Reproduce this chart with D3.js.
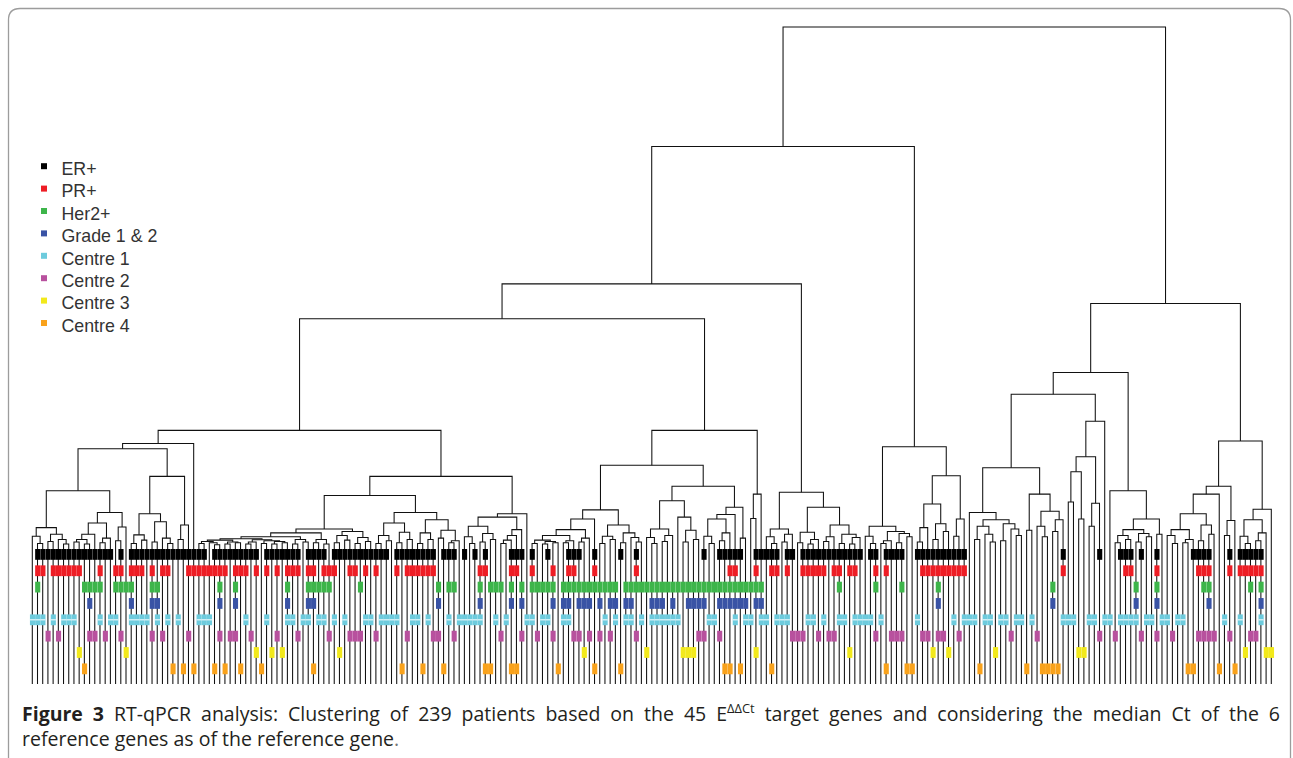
<!DOCTYPE html>
<html><head><meta charset="utf-8">
<script src="https://cdn.jsdelivr.net/npm/d3@7"></script>
<style>html,body{margin:0;padding:0;background:#fff;} svg{display:block;}</style>
</head><body>
<svg id="chart" width="1293" height="758"></svg>
<script>
// ---------------- legend / rows ----------------
const rowLabels = ["ER+","PR+","Her2+","Grade 1 & 2","Centre 1","Centre 2","Centre 3","Centre 4"];
const rowColors = ["#000000","#ee1d25","#3db54a","#3953a5","#6dcbdd","#b8519e","#f2e91b","#f9a21b"];

// positive leaves per attribute, as runs [first,last] of leaf index (0..238, left to right)
const erRuns = [[1,15],[17,17],[19,33],[35,43],[45,51],[53,56],[58,68],[70,77],[79,81],[83,83],[85,85],[87,87],[92,94],[96,96],[99,99],[103,105],[108,108],[113,113],[116,116],[129,129],[132,136],[139,143],[145,146],[148,159],[161,162],[164,167],[170,179],[198,198],[205,205],[209,211],[213,213],[216,216],[223,226],[230,230],[232,236]];
const prRuns = [[1,2],[4,9],[13,13],[16,17],[19,21],[23,23],[25,26],[30,37],[39,41],[43,43],[45,45],[47,47],[49,51],[53,54],[56,58],[61,62],[64,64],[66,66],[70,70],[72,77],[86,87],[92,93],[96,96],[100,100],[103,104],[108,108],[116,116],[134,135],[139,139],[142,143],[145,145],[148,152],[154,155],[157,158],[162,162],[164,164],[171,179],[198,198],[210,211],[216,216],[224,226],[230,230],[232,236]];
const her2Runs = [[1,1],[10,13],[16,19],[23,24],[36,36],[39,39],[49,49],[53,57],[63,63],[78,78],[80,81],[86,86],[88,90],[92,92],[94,94],[96,100],[102,112],[114,140],[155,155],[162,162],[167,167],[174,174],[196,196],[212,212],[216,216],[225,226],[234,234],[236,236]];
const gradeRuns = [[11,11],[19,19],[23,24],[36,36],[39,39],[49,49],[53,54],[78,78],[86,86],[92,92],[94,94],[100,100],[102,103],[105,107],[109,109],[111,112],[114,115],[119,121],[123,123],[126,129],[132,137],[139,140],[174,174],[196,196],[212,212],[216,216],[226,226],[236,236]];
const centre1Runs = [[0,2],[4,4],[6,8],[13,13],[15,16],[19,22],[24,24],[26,26],[28,28],[32,34],[41,41],[45,45],[49,50],[52,53],[55,56],[58,58],[60,60],[64,65],[67,70],[73,74],[76,76],[80,80],[82,86],[89,89],[91,91],[95,96],[98,99],[102,103],[110,110],[112,112],[114,115],[117,117],[119,124],[130,131],[135,135],[137,138],[140,141],[143,145],[149,150],[152,152],[155,156],[158,161],[163,163],[170,170],[177,177],[179,181],[183,184],[186,187],[189,190],[192,192],[198,200],[203,204],[206,207],[209,212],[214,215],[217,218],[220,221],[229,229],[232,232],[236,236]];
const centre2Runs = [[3,3],[5,5],[11,12],[14,14],[17,17],[23,23],[25,25],[30,30],[36,36],[38,39],[42,42],[47,47],[51,51],[57,57],[61,63],[66,66],[72,72],[77,78],[81,81],[90,90],[94,94],[97,97],[100,100],[104,105],[107,107],[109,109],[111,111],[116,116],[128,129],[132,132],[146,148],[151,151],[153,154],[162,162],[165,167],[171,172],[174,175],[178,178],[188,188],[193,193],[205,205],[208,208],[213,213],[216,216],[219,219],[224,227],[230,230],[234,235]];
const centre3Runs = [[9,9],[18,18],[43,43],[46,46],[48,48],[59,59],[106,106],[118,118],[125,127],[139,139],[157,157],[173,173],[176,176],[185,185],[201,202],[233,233],[237,238]];
const centre4Runs = [[10,10],[27,27],[29,29],[31,31],[35,35],[37,37],[40,40],[44,44],[54,54],[71,71],[75,75],[79,79],[87,88],[92,93],[101,101],[108,108],[113,113],[133,134],[136,136],[142,142],[164,164],[168,169],[182,182],[191,191],[194,197],[222,223],[228,228],[231,231]];
const rowRuns = [erRuns, prRuns, her2Runs, gradeRuns, centre1Runs, centre2Runs, centre3Runs, centre4Runs];

// ---------------- dendrogram (Newick: x = patient, ":h" = merge height, root = 100) ----------------
const N51  = "((x,(x,x):21.4):22.5,((x,x):21.7,(x,(x,x):21.3):22.0):22.8):23.8";
const N100 = "((((x,x):21.6,(x,x):21.3):22.0,x):22.8,((x,x):21.5,x):22.2):24.5";
const N126 = "((x,x):21.8,x):23.9";
const N140 = "((x,x):21.4,(x,x):21.9):22.7";
const N162 = "((x,x):21.6,(x,(x,x):21.4):22.2):24.7";
const N185 = "((x,x):22.0,x):24.2";
const L1 = `(((${N51},(${N100},${N126}):26.1):29.4,((${N140},${N162}):25.9,${N185}):31.6):35.8,x):36.6`;

const C1a  = "((((x,x):21.4,(x,(x,x):21.2):21.5):21.7,((x,x):21.3,(x,x):21.5):21.6):21.9,(((x,x):21.3,x):21.6,((x,x):21.4,((x,x):21.3,(x,x):21.5):21.7):21.8):21.95):22.1";
const C1b  = "((x,x):21.3,(x,x):21.6):22.0";
const C2   = "((x,x):21.5,(x,x):21.3):22.0";
const N347 = "(((x,x):21.5,(x,x):21.9):22.6,((x,x):21.4,(x,x):21.7):22.3):23.2";
const N396 = "(((x,x):21.4,(x,x):21.8):22.6,((x,x):21.5,(x,x):22.0):23.1):24.5";
const N444 = "(((x,x):21.4,(x,x):22.0):23.0,((x,x):22.2,((x,x):21.5,x):21.8):23.4):25.0";
const N482 = "((x,(x,x):21.4):22.4,((x,x):21.6,(x,x):22.0):22.9):24.0";
const N517 = "((((x,x):21.4,x):21.9,x):22.6,x):23.5";
const N371 = `((((${C1a},${C1b}):22.4,${C2}):23.0,${N347}):23.6,(${N396},${N444}):26.1):28.7`;
const R1 = `(${N371},((${N482},${N517}):25.4,x):25.9):31.6`;
const A1a1 = `(${L1},${R1}):38.6`;

const N572 = "((((x,x):21.4,((x,x):21.3,(x,x):21.5):21.7):21.9,((x,x):21.5,x):21.8):22.6,((x,x):21.6,x):22.2):23.5";
const N608 = "((x,x):21.4,(x,x):22.0):22.5";
const N631 = "((x,x):21.5,(x,(x,x):21.6):22.3):23.0";
const N661 = "((x,(x,x):21.4):22.3,((x,x):21.7,x):22.6):23.6";
const N684 = "(x,((x,x):21.6,(x,x):22.0):23.4):25.4";
const N719 = "((x,(x,x):21.4):22.5,((x,x):21.8,x):23.0):25.1";
const N758 = "((x,x):25.2,x):28.9";
const A1a2 = `((((${N572},x):25.1,(${N608},${N631}):24.2):26.5,((${N661},${N684}):27.9,((${N719},x):25.8,(x,x):22.2):26.9):30.1):33.3,${N758}):38.6`;

const N780  = "((x,(x,x):21.4):22.4,((x,x):21.6,x):22.8):23.6";
const N831a = "((x,x):21.5,((x,x):21.3,x):22.0):23.1";
const N831b = "(((x,x):21.7,x):22.4,((x,x):21.4,((x,x):21.3,x):22.3):22.8):24.2";
const A1 = `((${A1a1},${A1a2}):55.6,(${N780},(${N831a},${N831b}):26.9):29.2):60.9`;

const N871 = "(x,(x,x):21.4):22.5";
const N893 = "(((x,x):21.4,x):21.8,((x,x):21.5,(x,x):22.4):22.9):23.2";
const N925 = "((x,x):21.6,x):23.8";
const N941 = "((x,x):22.0,(x,x):23.2):24.4";
const N961 = "((x,x):22.5,x):25.1";
const A2 = `((${N871},${N893}):24.0,((${N925},${N941}):27.4,${N961}):31.7):36.1`;
const A = `(${A1},${A2}):81.8`;

const N997  = "(((x,x):22.0,(x,(x,x):21.6):22.8):24.0,((x,x):21.8,(x,(x,x):22.6):23.6):24.4):25.0";
const N1053 = "((x,(x,x):22.4):24.0,((x,x):23.2,x):25.0):26.3";
const N1096 = "((((x,x):27.7,(x,x):25.1):32.3,((x,x):24.0,x):27.5):34.6,x):40.0";
const N1135 = "(((x,x):21.5,(x,x):22.0):22.6,((x,x):21.6,(x,x):22.4):22.9):23.5";
const B1 = `((((x,${N997}):26.1,((x,x):23.4,${N1053}):28.9):32.9,${N1096}):44.1,(x,(${N1135},(x,x):22.8):25.1):29.4):47.4`;
const N1183 = "((x,(x,x):21.4):22.6,((x,x):21.5,x):22.0):23.5";
const N1207 = "((x,x):21.8,(x,x):22.8):24.2";
const N1233 = "((x,x):22.6,x):24.9";
const N1254 = "((x,(x,x):21.4):22.5,((x,x):21.8,x):23.0):25.0";
const B2 = `((((${N1183},${N1207}):25.9,x):28.9,${N1233}):30.1,(${N1254},x):26.6):37.0`;
const B = `(${B1},${B2}):57.9`;
const treeNewick = `(${A},${B}):100`;

const captionBold = "Figure 3";
const captionL1a = " RT-qPCR analysis: Clustering of 239 patients based on the 45 E";
const captionSup = "\u0394\u0394Ct";
const captionL1b = " target genes and considering the median Ct of the 6";
const captionL2 = "reference genes as of the reference gene";

// ---------------- parse ----------------
function parseNewick(str){
  const s = str.replace(/\s+/g,"");
  let i = 0;
  function node(){
    if (s[i] === "("){
      i++;
      const children = [node()];
      while (s[i] === ","){ i++; children.push(node()); }
      i++; // ")"
      let h = 0;
      if (s[i] === ":"){ i++; const j = i; while (i < s.length && /[0-9.]/.test(s[i])) i++; h = +s.slice(j, i); }
      return {h, children};
    }
    i++; // leaf
    return {h: 0};
  }
  return node();
}

const svg = d3.select("#chart");
const W = 1293, H = 758;

// frame
svg.append("path")
  .attr("d", `M8.5,${H+2} V20 Q8.5,8.5 20,8.5 H1279 Q1290.5,8.5 1290.5,20 V${H+2}`)
  .attr("fill","none").attr("stroke","#9c9c9c").attr("stroke-width",1.3);

const root = d3.hierarchy(parseNewick(treeNewick));
const leaves = root.leaves();
if (leaves.length !== 239) throw new Error("leaf count " + leaves.length);
leaves.forEach((l, k) => l.xi = k);
root.eachAfter(n => { if (n.children) n.xi = d3.mean(n.children, c => c.xi); });

const x = d3.scaleLinear().domain([0, leaves.length - 1]).range([32.3, 1271.3]);
const y = d3.scaleLinear().domain([0, 100]).range([684, 27]);
const step = x(1) - x(0);

const gTree = svg.append("g").attr("fill","none").attr("stroke","#111").attr("stroke-width",1.05);
root.descendants().filter(n => n.children).forEach(n => {
  const [a, b] = n.children;
  gTree.append("path").attr("d",
    `M${x(a.xi)},${y(a.data.h)} V${y(n.data.h)} H${x(b.xi)} V${y(b.data.h)}`);
});

// attribute bars
const rowScale = d3.scaleBand().domain(rowLabels).range([549, 549 + 7*16.35 + 10.8]).paddingInner(0.3394).paddingOuter(0);
const gBars = svg.append("g");
rowRuns.forEach((runs, r) => {
  const flags = new Array(leaves.length).fill(0);
  runs.forEach(([a, b]) => { for (let k = a; k <= b; k++) flags[k] = 1; });
  const yy = rowScale(rowLabels[r]);
  flags.forEach((f, k) => {
    if (!f) return;
    gBars.append("rect")
      .attr("x", x(k) - step/2 + 0.25).attr("width", step - 0.1)
      .attr("y", yy).attr("height", rowScale.bandwidth())
      .attr("fill", rowColors[r]);
  });
  if (rowLabels[r] === "Centre 1") {
    flags.forEach((f, k) => {
      if (!f) return;
      gBars.append("rect")
        .attr("x", x(k) - step/2 + 0.25).attr("width", step - 0.1)
        .attr("y", yy + rowScale.bandwidth()/2 - 0.6).attr("height", 1.2)
        .attr("fill", "#e8f7fa");
    });
  }
});

// legend
const gLeg = svg.append("g");
rowLabels.forEach((lab, k) => {
  const cy = 166.2 + k*22.4;
  gLeg.append("rect").attr("x", 41).attr("y", cy - 3).attr("width", 6).attr("height", 6).attr("fill", rowColors[k]);
  gLeg.append("text").attr("x", 61.5).attr("y", cy + 8.8)
    .attr("font-family","Liberation Sans, Arial, sans-serif").attr("font-size", 17.8)
    .attr("fill","#333").text(lab);
});

// caption
const capFont = "Open Sans, Noto Sans, sans-serif";
const capSize = 19.5;
const t1 = svg.append("text").attr("x", 22).attr("y", 721)
  .attr("font-family", capFont).attr("font-size", capSize).attr("font-weight", 500).attr("fill","#231f20");
t1.append("tspan").attr("font-weight", 700).text(captionBold);
t1.append("tspan").text(captionL1a);
t1.append("tspan").attr("font-size", capSize*0.66).attr("dy", -8).text(captionSup);
t1.append("tspan").attr("dy", 8).text(captionL1b);
const natural = t1.node().getComputedTextLength();
const spaces = (captionBold + captionL1a + captionL1b).split(" ").length - 1;
const target = 1280 - 22;
t1.attr("word-spacing", (target - natural) / spaces);

const t2 = svg.append("text").attr("x", 22).attr("y", 746)
  .attr("font-family", capFont).attr("font-size", capSize).attr("font-weight", 500).attr("fill","#231f20");
t2.append("tspan").text(captionL2);
t2.append("tspan").attr("fill","#777").text(".");
</script>
</body></html>
